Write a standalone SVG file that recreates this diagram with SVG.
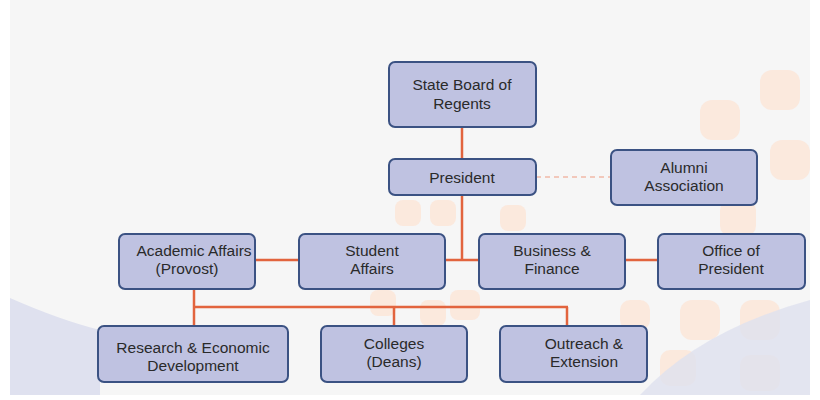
<svg xmlns="http://www.w3.org/2000/svg" width="820" height="400" viewBox="0 0 820 400">
<style>
.n rect{fill:#bfc2e1;stroke:#3b5283;stroke-width:2}
.n text{font-family:"Liberation Sans",Arial,sans-serif;font-size:15.5px;fill:#2a2a2a;text-anchor:middle}
.c line{stroke:#e2643e;stroke-width:2.5}
.bg{fill:#fde6d8}
</style>
<rect width="820" height="400" fill="#ffffff"/>
<rect x="10" y="0" width="800" height="395" fill="#f6f6f6"/>
<g opacity="0.8">
<rect class="bg" x="395" y="200" width="26" height="26" rx="8"/>
<rect class="bg" x="430" y="200" width="26" height="26" rx="8"/>
<rect class="bg" x="500" y="205" width="26" height="26" rx="8"/>
<rect class="bg" x="450" y="290" width="30" height="30" rx="8"/>
<rect class="bg" x="420" y="300" width="26" height="26" rx="8"/>
<rect class="bg" x="370" y="290" width="26" height="26" rx="8"/>
<rect class="bg" x="700" y="100" width="40" height="40" rx="12"/>
<rect class="bg" x="760" y="70" width="40" height="40" rx="12"/>
<rect class="bg" x="770" y="140" width="40" height="40" rx="12"/>
<rect class="bg" x="720" y="200" width="36" height="36" rx="10"/>
<rect class="bg" x="680" y="300" width="40" height="40" rx="12"/>
<rect class="bg" x="740" y="300" width="40" height="40" rx="12"/>
<rect class="bg" x="620" y="300" width="30" height="30" rx="10"/>
<rect class="bg" x="660" y="350" width="36" height="36" rx="10"/>
<rect class="bg" x="740" y="355" width="40" height="36" rx="10"/>
</g>
<path d="M10 298 Q60 320 100 330 L100 395 L10 395 Z" fill="#dfe1ef"/>
<path d="M640 395 Q700 330 810 300 L810 395 Z" fill="#dfe1ef" opacity="0.8"/>
<g class="c">
<line x1="462" y1="127" x2="462" y2="159"/>
<line x1="462" y1="195" x2="462" y2="260"/>
<line x1="445" y1="260" x2="479" y2="260"/>
<line x1="255" y1="260" x2="299" y2="260"/>
<line x1="625" y1="260" x2="658" y2="260"/>
<line x1="536" y1="177" x2="611" y2="177" stroke-dasharray="5,4" style="stroke-width:1.2;stroke:#ee9a80"/>
<line x1="194" y1="289" x2="194" y2="326"/>
<line x1="194" y1="307" x2="568" y2="307"/>
<line x1="394" y1="307" x2="394" y2="326"/>
<line x1="567" y1="307" x2="567" y2="326"/>
</g>
<g id="regents" class="n"><rect x="389" y="62" width="147" height="65" rx="6"/><text x="462" y="90">State Board of</text><text x="462" y="109">Regents</text></g>
<g id="president" class="n"><rect x="389" y="159" width="147" height="36" rx="6"/><text x="462" y="183">President</text></g>
<g id="alumni" class="n"><rect x="611" y="150" width="146" height="55" rx="6"/><text x="684" y="173">Alumni</text><text x="684" y="191">Association</text></g>
<g id="academic" class="n"><rect x="119" y="234" width="136" height="55" rx="6"/><text x="194" y="256">Academic Affairs</text><text x="187" y="274">(Provost)</text></g>
<g id="student" class="n"><rect x="299" y="234" width="146" height="55" rx="6"/><text x="372" y="256">Student</text><text x="372" y="274">Affairs</text></g>
<g id="business" class="n"><rect x="479" y="234" width="146" height="55" rx="6"/><text x="552" y="256">Business &amp;</text><text x="552" y="274">Finance</text></g>
<g id="office" class="n"><rect x="658" y="234" width="147" height="55" rx="6"/><text x="731" y="256">Office of</text><text x="731" y="274">President</text></g>
<g id="research" class="n"><rect x="98" y="326" width="190" height="56" rx="6"/><text x="193" y="353">Research &amp; Economic</text><text x="193" y="371">Development</text></g>
<g id="colleges" class="n"><rect x="321" y="326" width="146" height="56" rx="6"/><text x="394" y="349">Colleges</text><text x="394" y="367">(Deans)</text></g>
<g id="outreach" class="n"><rect x="500" y="326" width="147" height="56" rx="6"/><text x="584" y="349">Outreach &amp;</text><text x="584" y="367">Extension</text></g>
</svg>
